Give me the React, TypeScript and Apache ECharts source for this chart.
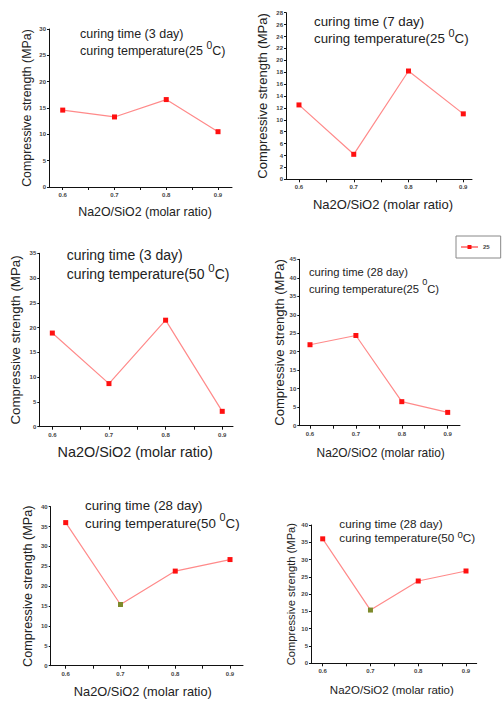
import { useEffect, useRef } from 'react';
import * as echarts from 'echarts';

// ---- data ----
const ratios = [0.6, 0.7, 0.8, 0.9];
const xTickValues = [0.6, 0.65, 0.7, 0.75, 0.8, 0.85, 0.9];
const strength3d25 = [14.6, 13.3, 16.6, 10.5];
const strength7d25 = [12.5, 4.2, 18.2, 11.0];
const strength3d50 = [18.9, 8.7, 21.5, 3.1];
const strength28d25 = [21.9, 24.4, 6.5, 3.6];
const strength28d50 = [36.0, 15.4, 23.8, 26.7];
const panelSeries = [strength3d25, strength7d25, strength3d50, strength28d25, strength28d50, strength28d50];
const curingDays = ['3', '7', '3', '28', '28', '28'];
const curingTemps = ['25', '25', '50', '25', '50', '50'];
const yMaxes = [30, 28, 35, 45, 40, 40];
const yIntervals = [5, 2, 5, 5, 5, 5];
const xAxisName = 'Na2O/SiO2 (molar ratio)';
const yAxisName = 'Compressive strength (MPa)';
const legendName = '25';

// ---- layout ----
const layout = [
  { left: 49, top: 29, width: 183, height: 158, xMin: 0.5735, xMax: 0.927, tLeft: 80, tTop: 23.5, tSize: 12.5, tLine: 17, xnSize: 12.4, xnGap: 18.8, xnShift: 4.5, ynSize: 12.4, ynGap: 15.8 },
  { left: 286, top: 12.7, width: 186, height: 166.6, xMin: 0.5763, xMax: 0.9159, tLeft: 314, tTop: 10.5, tSize: 13.3, tLine: 17, xnSize: 13, xnGap: 18.2, xnShift: 4, ynSize: 13, ynGap: 17.5 },
  { left: 39.3, top: 253.3, width: 193.7, height: 173.4, xMin: 0.577, xMax: 0.919, tLeft: 66.7, tTop: 243.2, tSize: 14, tLine: 19, xnSize: 14.4, xnGap: 17.8, xnShift: -1, ynSize: 13.3, ynGap: 17.6 },
  { left: 299.3, top: 259.3, width: 160.7, height: 166.4, xMin: 0.5767, xMax: 0.9268, tLeft: 309, tTop: 259.5, tSize: 11.2, tLine: 17.7, xnSize: 11.9, xnGap: 21, xnShift: 1, ynSize: 13.1, ynGap: 10.5 },
  { left: 50.7, top: 506.7, width: 192.3, height: 159, xMin: 0.5726, xMax: 0.9237, tLeft: 85, tTop: 493.5, tSize: 13.3, tLine: 18.3, xnSize: 12.8, xnGap: 19.6, xnShift: -4, ynSize: 12.7, ynGap: 16 },
  { left: 311, top: 525, width: 165.7, height: 138.3, xMin: 0.5755, xMax: 0.9224, tLeft: 339.3, tTop: 514.5, tSize: 11.7, tLine: 14.5, xnSize: 11.5, xnGap: 20.2, xnShift: -2, ynSize: 11.2, ynGap: 14.7 },
];

const FONT = 'Liberation Sans, Arial, Helvetica, sans-serif';
const TEXT = '#222';
const LINE_COLOR = '#ff8a8a';
const MARK_COLOR = '#ff1010';
const ODD_MARK = '#7d8a2b';

function buildOption() {
  const grid: any[] = [];
  const xAxis: any[] = [];
  const yAxis: any[] = [];
  const series: any[] = [];
  const title: any[] = [];

  layout.forEach((L, i) => {
    grid.push({ left: L.left, top: L.top, width: L.width, height: L.height, containLabel: false });
    xAxis.push({
      type: 'value',
      gridIndex: i,
      min: L.xMin,
      max: L.xMax,
      name: xAxisName,
      nameLocation: 'middle',
      nameGap: L.xnGap,
      nameTextStyle: {
        fontSize: L.xnSize,
        color: TEXT,
        fontFamily: FONT,
        padding: L.xnShift >= 0 ? [0, 0, 0, L.xnShift * 2] : [0, -L.xnShift * 2, 0, 0],
      },
      axisLine: { show: true, onZero: false, lineStyle: { color: '#111', width: 1 } },
      axisTick: { show: true, inside: false, length: 3, customValues: xTickValues, lineStyle: { color: '#111' } },
      axisLabel: { show: true, customValues: ratios, fontSize: 6, color: '#444', fontWeight: 'bold', margin: 5, fontFamily: FONT },
      splitLine: { show: false },
    });
    yAxis.push({
      type: 'value',
      gridIndex: i,
      min: 0,
      max: yMaxes[i],
      interval: yIntervals[i],
      name: yAxisName,
      nameLocation: 'middle',
      nameRotate: 90,
      nameGap: L.ynGap,
      nameTextStyle: { fontSize: L.ynSize, color: TEXT, fontFamily: FONT },
      axisLine: { show: true, lineStyle: { color: '#111', width: 1 } },
      axisTick: { show: true, length: 2, lineStyle: { color: '#111' } },
      axisLabel: { fontSize: 6, color: '#444', fontWeight: 'bold', margin: 3, fontFamily: FONT },
      splitLine: { show: false },
    });
    const vals = panelSeries[i];
    series.push({
      type: 'line',
      name: i === 3 ? legendName : 'panel' + (i + 1),
      xAxisIndex: i,
      yAxisIndex: i,
      data: ratios.map((r, k) => {
        const pt: any = { value: [r, vals[k]] };
        if (i >= 4 && k === 1) pt.itemStyle = { color: ODD_MARK };
        return pt;
      }),
      symbol: 'rect',
      symbolSize: 5,
      lineStyle: { color: LINE_COLOR, width: 1.2 },
      itemStyle: { color: MARK_COLOR },
      emphasis: { disabled: true },
    });
    const supH = L.tLine - 0.52 * L.tSize;
    title.push({
      left: L.tLeft,
      top: L.tTop,
      padding: 0,
      text: `{a|curing time (${curingDays[i]} day)}\n{a|curing temperature(${curingTemps[i]} }{s|0}{a|C)}`,
      textStyle: {
        fontWeight: 'normal',
        fontSize: L.tSize,
        fontFamily: FONT,
        color: TEXT,
        rich: {
          a: { fontSize: L.tSize, lineHeight: L.tLine, color: TEXT, fontFamily: FONT, fontWeight: 'normal', verticalAlign: 'bottom' },
          s: { fontSize: L.tSize * 0.82, lineHeight: supH, color: TEXT, fontFamily: FONT, fontWeight: 'normal', verticalAlign: 'top' },
        },
      },
    });
  });

  return {
    animation: false,
    backgroundColor: '#ffffff',
    title,
    grid,
    xAxis,
    yAxis,
    series,
    legend: {
      data: [legendName],
      left: 456,
      top: 236,
      orient: 'vertical',
      padding: [8, 11, 8, 4],
      itemWidth: 17,
      itemHeight: 5,
      borderColor: '#888',
      borderWidth: 1,
      textStyle: { fontSize: 6, color: '#444', fontWeight: 'bold', fontFamily: FONT },
    },
  };
}

export default function App() {
  const ref = useRef<HTMLDivElement>(null);
  useEffect(() => {
    if (!ref.current) return;
    const chart = echarts.init(ref.current, undefined, { renderer: 'svg' });
    chart.setOption(buildOption() as any);
    return () => chart.dispose();
  }, []);
  return (
    <div
      ref={ref}
      style={{ position: 'absolute', left: 0, top: 0, width: 502, height: 702, background: '#fff' }}
    />
  );
}
